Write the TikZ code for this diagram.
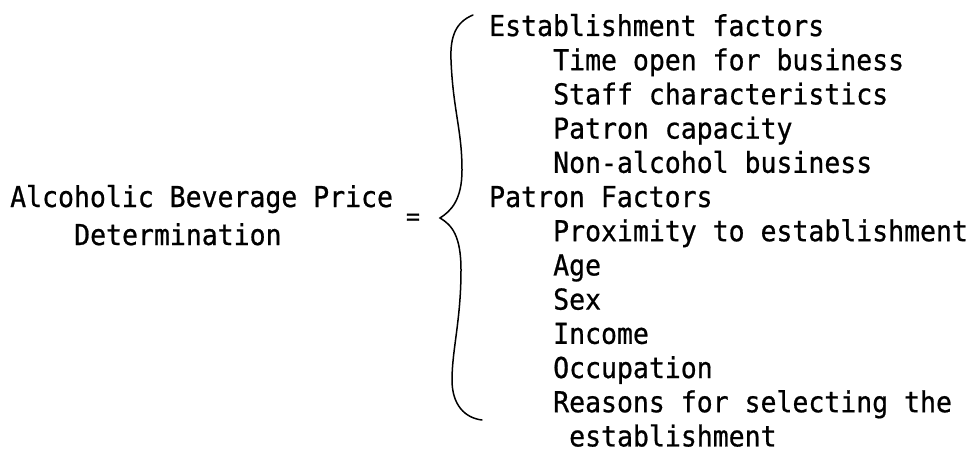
\documentclass[tikz,border=0pt]{standalone}
\usepackage{fontspec}
\newfontfamily\typefont[FakeStretch=0.92, FakeBold=0.7]{DejaVu Sans Mono}
\usepackage{tikz}

\begin{document}
\begin{tikzpicture}[x=1pt, y=-1pt,
    entry/.style={anchor=base west, inner sep=0pt, font=\fontsize{28.8}{34}\typefont},
    equals/.style={anchor=base, inner sep=0pt, font=\fontsize{25}{26}\typefont},
    bracket/.style={line width=1.5pt, line cap=round}]
    \useasboundingbox (0, 0) rectangle (974, 452);
    % left hand side
    \node[entry] (price) at (10, 207) {Alcoholic Beverage Price};
    \node[entry] (determination) at (74, 245) {Determination};
    \node[equals] (eq) at (413, 225) {=};
    % the brace
    \draw[bracket] (473, 15) .. controls (456, 22) and (450, 36) .. (451, 60)
        .. controls (453, 110) and (462, 130) .. (462, 170)
        .. controls (462, 200) and (451, 211) .. (440, 218)
        .. controls (452, 225) and (461, 236) .. (461, 270)
        .. controls (461, 320) and (452, 350) .. (452, 380)
        .. controls (452, 405) and (465, 418) .. (482, 420);
    % establishment factors
    \node[entry] (est) at (489, 36) {Establishment factors};
    \node[entry] (time) at (553, 70.2) {Time open for business};
    \node[entry] (staff) at (553, 104.4) {Staff characteristics};
    \node[entry] (capacity) at (553, 138.6) {Patron capacity};
    \node[entry] (nonalc) at (553, 172.8) {Non-alcohol business};
    % patron factors
    \node[entry] (patron) at (489, 207) {Patron Factors};
    \node[entry] (proximity) at (553, 241.2) {Proximity to establishment};
    \node[entry] (age) at (553, 275.4) {Age};
    \node[entry] (sex) at (553, 309.6) {Sex};
    \node[entry] (income) at (553, 343.8) {Income};
    \node[entry] (occupation) at (553, 378) {Occupation};
    \node[entry] (reasons) at (553, 412.2) {Reasons for selecting the};
    \node[entry] (reasons2) at (569, 446.4) {establishment};
\end{tikzpicture}
\end{document}
